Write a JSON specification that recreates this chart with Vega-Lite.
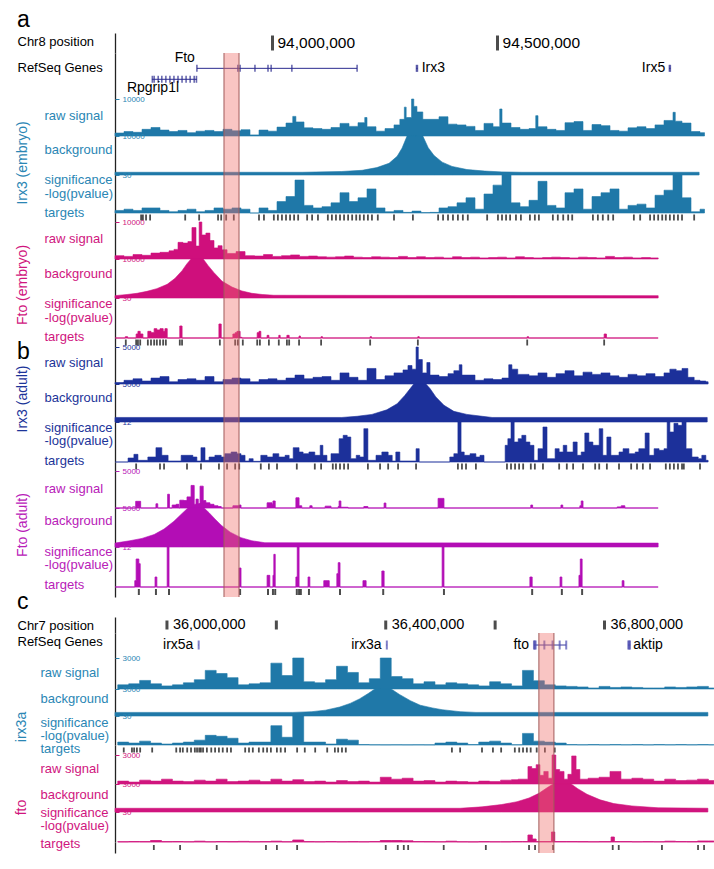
{
"$schema": "https://vega.github.io/schema/vega-lite/v6.json",
"padding": {"left": 15, "top": 0, "right": 0, "bottom": 0},
"background": "white",
"spacing": 0,
"bounds": "flush",
"resolve": {"scale": {"x": "independent", "y": "independent"}},
"config": {
  "view": {"stroke": null},
  "font": "Liberation Sans",
  "axisY": {"grid": false, "domainColor": "#222222", "domainWidth": 1.3, "titleAngle": 0, "titleAlign": "left", "titleBaseline": "top", "titleFontSize": 13, "titleFontWeight": "normal", "titleFont": "Liberation Sans", "titleLineHeight": 14, "labelFont": "Liberation Sans", "labelFontSize": 8, "labelAlign": "left", "labelBaseline": "middle", "tickSize": -4, "labelPadding": -3, "tickWidth": 1}
},
"datasets": {
  "hiA": [{"start": 93.8922, "end": 93.9256}],
  "hiC": [{"start": 36.680, "end": 36.7075}],
  "posA": [{"pos": 94.0, "label": "94,000,000"}, {"pos": 94.5, "label": "94,500,000"}],
  "posC": [{"pos": 36.0, "label": "36,000,000"}, {"pos": 36.2, "label": ""}, {"pos": 36.4, "label": "36,400,000"}, {"pos": 36.6, "label": ""}, {"pos": 36.8, "label": "36,800,000"}],
  "genesA": [{"gene": "Fto", "start": 93.832, "end": 94.188, "row": 1}, {"gene": "Rpgrip1l", "start": 93.732, "end": 93.832, "row": 2}, {"gene": "Irx3", "start": 94.3195, "end": 94.3225, "row": 1}, {"gene": "Irx5", "start": 94.8815, "end": 94.8845, "row": 1}],
  "exonsA": [{"pos": 93.832, "row": 1}, {"pos": 93.923, "row": 1}, {"pos": 93.928, "row": 1}, {"pos": 93.961, "row": 1}, {"pos": 93.990, "row": 1}, {"pos": 93.997, "row": 1}, {"pos": 94.043, "row": 1}, {"pos": 94.188, "row": 1},
    {"pos": 93.733, "row": 2}, {"pos": 93.737, "row": 2}, {"pos": 93.746, "row": 2}, {"pos": 93.754, "row": 2}, {"pos": 93.763, "row": 2}, {"pos": 93.772, "row": 2}, {"pos": 93.781, "row": 2}, {"pos": 93.790, "row": 2}, {"pos": 93.799, "row": 2}, {"pos": 93.808, "row": 2}, {"pos": 93.817, "row": 2}, {"pos": 93.826, "row": 2}, {"pos": 93.831, "row": 2},
    {"pos": 94.320, "row": 1}, {"pos": 94.322, "row": 1}, {"pos": 94.882, "row": 1}, {"pos": 94.884, "row": 1}],
  "genesC": [{"gene": "irx5a", "start": 36.0575, "end": 36.0585, "row": 1}, {"gene": "irx3a", "start": 36.4015, "end": 36.4025, "row": 1}, {"gene": "fto", "start": 36.671, "end": 36.730, "row": 1}, {"gene": "aktip", "start": 36.843, "end": 36.847, "row": 1}],
  "exonsC": [{"pos": 36.058, "row": 1}, {"pos": 36.402, "row": 1}, {"pos": 36.671, "row": 1}, {"pos": 36.6725, "row": 1}, {"pos": 36.674, "row": 1}, {"pos": 36.690, "row": 1}, {"pos": 36.705, "row": 1}, {"pos": 36.718, "row": 1}, {"pos": 36.730, "row": 1}, {"pos": 36.8435, "row": 1}, {"pos": 36.845, "row": 1}, {"pos": 36.8465, "row": 1}],
  "ie_raw": [{"x":93.65,"v":800},{"x":93.67,"v":1200},{"x":93.69,"v":1000},{"x":93.71,"v":1800},{"x":93.73,"v":2300},{"x":93.75,"v":1600},{"x":93.77,"v":1200},{"x":93.79,"v":1500},{"x":93.81,"v":900},{"x":93.83,"v":1300},{"x":93.85,"v":1500},{"x":93.87,"v":1200},{"x":93.89,"v":1800},{"x":93.91,"v":1400},{"x":93.93,"v":1700},{"x":93.95,"v":300},{"x":93.97,"v":1600},{"x":93.99,"v":1300},{"x":94.01,"v":2400},{"x":94.03,"v":3500},{"x":94.045,"v":5300},{"x":94.052,"v":3800},{"x":94.07,"v":2200},{"x":94.09,"v":2000},{"x":94.11,"v":1800},{"x":94.13,"v":2300},{"x":94.15,"v":3400},{"x":94.17,"v":2600},{"x":94.19,"v":3600},{"x":94.205,"v":5000},{"x":94.21,"v":2500},{"x":94.23,"v":1300},{"x":94.25,"v":2000},{"x":94.27,"v":3000},{"x":94.283,"v":4500},{"x":94.293,"v":7800},{"x":94.297,"v":5000},{"x":94.309,"v":10000},{"x":94.314,"v":8000},{"x":94.321,"v":6500},{"x":94.334,"v":4500},{"x":94.35,"v":4500},{"x":94.37,"v":5200},{"x":94.39,"v":3200},{"x":94.41,"v":3000},{"x":94.43,"v":2600},{"x":94.45,"v":1500},{"x":94.47,"v":3400},{"x":94.49,"v":2500},{"x":94.505,"v":7300},{"x":94.51,"v":3500},{"x":94.53,"v":2300},{"x":94.55,"v":1800},{"x":94.57,"v":2000},{"x":94.585,"v":5500},{"x":94.59,"v":2500},{"x":94.61,"v":1800},{"x":94.63,"v":1500},{"x":94.65,"v":3600},{"x":94.67,"v":3900},{"x":94.69,"v":1500},{"x":94.71,"v":3100},{"x":94.73,"v":2800},{"x":94.75,"v":1500},{"x":94.77,"v":1300},{"x":94.79,"v":2200},{"x":94.81,"v":2500},{"x":94.83,"v":2000},{"x":94.85,"v":3000},{"x":94.87,"v":4200},{"x":94.89,"v":6400},{"x":94.895,"v":4000},{"x":94.91,"v":3500},{"x":94.93,"v":1200},{"x":94.95,"v":900},{"x":94.96,"v":0}],
  "ie_bg": [{"x":93.65,"v":700},{"x":94.066,"v":700},{"x":94.154,"v":900},{"x":94.199,"v":1200},{"x":94.232,"v":1900},{"x":94.259,"v":3000},{"x":94.277,"v":4800},{"x":94.288,"v":6900},{"x":94.299,"v":10000},{"x":94.317,"v":10000},{"x":94.334,"v":10000},{"x":94.346,"v":7000},{"x":94.359,"v":5000},{"x":94.377,"v":3300},{"x":94.399,"v":2200},{"x":94.432,"v":1400},{"x":94.472,"v":1000},{"x":94.51,"v":800},{"x":94.554,"v":700},{"x":94.948,"v":700}],
  "ie_sig": [{"x":93.65,"v":2},{"x":93.67,"v":3},{"x":93.69,"v":2},{"x":93.71,"v":4},{"x":93.73,"v":4},{"x":93.75,"v":2},{"x":93.77,"v":1},{"x":93.79,"v":2},{"x":93.81,"v":3},{"x":93.83,"v":1},{"x":93.85,"v":2},{"x":93.87,"v":4},{"x":93.89,"v":3},{"x":93.91,"v":4},{"x":93.93,"v":3},{"x":93.95,"v":0},{"x":93.97,"v":4},{"x":93.99,"v":2},{"x":94.01,"v":9},{"x":94.03,"v":13},{"x":94.05,"v":26},{"x":94.07,"v":6},{"x":94.09,"v":4},{"x":94.11,"v":5},{"x":94.13,"v":8},{"x":94.15,"v":16},{"x":94.17,"v":9},{"x":94.19,"v":12},{"x":94.21,"v":19},{"x":94.23,"v":4},{"x":94.25,"v":1},{"x":94.27,"v":2},{"x":94.29,"v":0.5},{"x":94.31,"v":1.5},{"x":94.33,"v":0.3},{"x":94.35,"v":0.5},{"x":94.37,"v":4},{"x":94.39,"v":5},{"x":94.41,"v":8},{"x":94.43,"v":12},{"x":94.45,"v":3},{"x":94.47,"v":15},{"x":94.49,"v":22},{"x":94.51,"v":30},{"x":94.53,"v":8},{"x":94.55,"v":5},{"x":94.57,"v":10},{"x":94.59,"v":25},{"x":94.61,"v":6},{"x":94.63,"v":4},{"x":94.65,"v":16},{"x":94.67,"v":19},{"x":94.69,"v":3},{"x":94.71,"v":13},{"x":94.73,"v":16},{"x":94.75,"v":19},{"x":94.77,"v":3},{"x":94.79,"v":6},{"x":94.81,"v":7},{"x":94.83,"v":4},{"x":94.85,"v":14},{"x":94.87,"v":18},{"x":94.89,"v":30},{"x":94.91,"v":12},{"x":94.93,"v":1},{"x":94.95,"v":3},{"x":94.96,"v":0}],
  "ie_tg": [{"x":93.708},{"x":93.712},{"x":93.719},{"x":93.728},{"x":93.806},{"x":93.837},{"x":93.879},{"x":93.886},{"x":93.897},{"x":93.914},{"x":93.970},{"x":93.981},{"x":94.003},{"x":94.012},{"x":94.021},{"x":94.030},{"x":94.039},{"x":94.048},{"x":94.057},{"x":94.077},{"x":94.088},{"x":94.101},{"x":94.123},{"x":94.132},{"x":94.141},{"x":94.150},{"x":94.159},{"x":94.168},{"x":94.177},{"x":94.186},{"x":94.194},{"x":94.203},{"x":94.212},{"x":94.221},{"x":94.234},{"x":94.270},{"x":94.312},{"x":94.368},{"x":94.379},{"x":94.390},{"x":94.401},{"x":94.412},{"x":94.423},{"x":94.434},{"x":94.477},{"x":94.501},{"x":94.510},{"x":94.519},{"x":94.528},{"x":94.541},{"x":94.552},{"x":94.572},{"x":94.583},{"x":94.592},{"x":94.623},{"x":94.634},{"x":94.646},{"x":94.657},{"x":94.666},{"x":94.712},{"x":94.723},{"x":94.734},{"x":94.746},{"x":94.757},{"x":94.803},{"x":94.817},{"x":94.839},{"x":94.848},{"x":94.857},{"x":94.866},{"x":94.874},{"x":94.883},{"x":94.892},{"x":94.901},{"x":94.910},{"x":94.937}],
  "fe_raw": [{"x":93.65,"v":900},{"x":93.67,"v":700},{"x":93.69,"v":1200},{"x":93.71,"v":1000},{"x":93.73,"v":1600},{"x":93.75,"v":1800},{"x":93.77,"v":2200},{"x":93.781,"v":2600},{"x":93.79,"v":4500},{"x":93.801,"v":4300},{"x":93.812,"v":4700},{"x":93.821,"v":8500},{"x":93.83,"v":3500},{"x":93.837,"v":10000},{"x":93.843,"v":6500},{"x":93.852,"v":7000},{"x":93.861,"v":5000},{"x":93.87,"v":3000},{"x":93.879,"v":3600},{"x":93.888,"v":2500},{"x":93.899,"v":1500},{"x":93.919,"v":2000},{"x":93.939,"v":900},{"x":93.96,"v":800},{"x":93.98,"v":1200},{"x":94.0,"v":700},{"x":94.02,"v":900},{"x":94.04,"v":1100},{"x":94.06,"v":700},{"x":94.08,"v":800},{"x":94.1,"v":600},{"x":94.12,"v":500},{"x":94.14,"v":600},{"x":94.16,"v":800},{"x":94.18,"v":500},{"x":94.2,"v":400},{"x":94.22,"v":600},{"x":94.24,"v":500},{"x":94.26,"v":400},{"x":94.28,"v":700},{"x":94.3,"v":400},{"x":94.32,"v":600},{"x":94.34,"v":400},{"x":94.36,"v":500},{"x":94.38,"v":300},{"x":94.4,"v":600},{"x":94.42,"v":400},{"x":94.44,"v":500},{"x":94.46,"v":300},{"x":94.48,"v":400},{"x":94.5,"v":500},{"x":94.52,"v":300},{"x":94.54,"v":600},{"x":94.56,"v":400},{"x":94.58,"v":300},{"x":94.6,"v":400},{"x":94.62,"v":500},{"x":94.64,"v":400},{"x":94.66,"v":300},{"x":94.68,"v":500},{"x":94.7,"v":400},{"x":94.72,"v":300},{"x":94.74,"v":700},{"x":94.76,"v":400},{"x":94.78,"v":500},{"x":94.8,"v":300},{"x":94.82,"v":400},{"x":94.84,"v":300},{"x":94.857,"v":0}],
  "fe_bg": [{"x":93.65,"v":600},{"x":93.677,"v":900},{"x":93.699,"v":1200},{"x":93.721,"v":1700},{"x":93.743,"v":2400},{"x":93.766,"v":3500},{"x":93.783,"v":5000},{"x":93.799,"v":7000},{"x":93.81,"v":8800},{"x":93.819,"v":10000},{"x":93.846,"v":10000},{"x":93.857,"v":8300},{"x":93.87,"v":6500},{"x":93.888,"v":4300},{"x":93.91,"v":2800},{"x":93.932,"v":1800},{"x":93.954,"v":1200},{"x":93.977,"v":900},{"x":94.003,"v":700},{"x":94.857,"v":600}],
  "fe_sig": [{"x":93.65,"v":0},{"x":93.673,"v":1},{"x":93.678,"v":0},{"x":93.697,"v":3},{"x":93.701,"v":5},{"x":93.706,"v":3},{"x":93.712,"v":0},{"x":93.723,"v":5},{"x":93.73,"v":4},{"x":93.737,"v":7},{"x":93.743,"v":6},{"x":93.75,"v":7},{"x":93.757,"v":5},{"x":93.761,"v":7},{"x":93.766,"v":0},{"x":93.794,"v":9},{"x":93.799,"v":0},{"x":93.881,"v":10.5},{"x":93.886,"v":0},{"x":93.912,"v":3},{"x":93.917,"v":4},{"x":93.921,"v":5},{"x":93.928,"v":0.5},{"x":93.932,"v":0},{"x":93.966,"v":4},{"x":93.97,"v":5},{"x":93.974,"v":0},{"x":93.988,"v":2},{"x":93.992,"v":0},{"x":94.014,"v":2},{"x":94.017,"v":0},{"x":94.032,"v":2},{"x":94.037,"v":0},{"x":94.059,"v":1.5},{"x":94.062,"v":0},{"x":94.108,"v":1},{"x":94.111,"v":0},{"x":94.217,"v":1},{"x":94.22,"v":0},{"x":94.323,"v":1},{"x":94.326,"v":0},{"x":94.566,"v":1},{"x":94.569,"v":0},{"x":94.737,"v":3},{"x":94.742,"v":0},{"x":94.857,"v":0}],
  "fe_tg": [{"x":93.674},{"x":93.697},{"x":93.701},{"x":93.706},{"x":93.723},{"x":93.730},{"x":93.737},{"x":93.743},{"x":93.750},{"x":93.757},{"x":93.763},{"x":93.794},{"x":93.799},{"x":93.883},{"x":93.917},{"x":93.923},{"x":93.934},{"x":93.966},{"x":93.972},{"x":93.992},{"x":94.014},{"x":94.032},{"x":94.037},{"x":94.059},{"x":94.108},{"x":94.217},{"x":94.323},{"x":94.566},{"x":94.737}],
  "ia_raw": [{"x":93.65,"v":200},{"x":93.67,"v":500},{"x":93.69,"v":700},{"x":93.71,"v":400},{"x":93.73,"v":800},{"x":93.75,"v":1000},{"x":93.77,"v":300},{"x":93.79,"v":600},{"x":93.81,"v":700},{"x":93.83,"v":500},{"x":93.85,"v":1000},{"x":93.87,"v":300},{"x":93.89,"v":600},{"x":93.91,"v":800},{"x":93.93,"v":700},{"x":93.95,"v":300},{"x":93.97,"v":600},{"x":93.99,"v":700},{"x":94.01,"v":500},{"x":94.03,"v":800},{"x":94.05,"v":1200},{"x":94.07,"v":700},{"x":94.09,"v":900},{"x":94.11,"v":1000},{"x":94.13,"v":500},{"x":94.15,"v":1500},{"x":94.17,"v":900},{"x":94.19,"v":500},{"x":94.21,"v":2100},{"x":94.23,"v":600},{"x":94.25,"v":1100},{"x":94.27,"v":1500},{"x":94.29,"v":1900},{"x":94.301,"v":2500},{"x":94.31,"v":2000},{"x":94.319,"v":5000},{"x":94.324,"v":3300},{"x":94.333,"v":1500},{"x":94.343,"v":2900},{"x":94.35,"v":1200},{"x":94.37,"v":1000},{"x":94.39,"v":1400},{"x":94.403,"v":1800},{"x":94.415,"v":2600},{"x":94.421,"v":1200},{"x":94.45,"v":500},{"x":94.47,"v":700},{"x":94.49,"v":600},{"x":94.51,"v":800},{"x":94.525,"v":2600},{"x":94.532,"v":2000},{"x":94.545,"v":1300},{"x":94.57,"v":1100},{"x":94.59,"v":1500},{"x":94.61,"v":900},{"x":94.63,"v":1400},{"x":94.65,"v":1800},{"x":94.67,"v":1100},{"x":94.69,"v":1600},{"x":94.71,"v":1300},{"x":94.73,"v":1500},{"x":94.75,"v":1100},{"x":94.77,"v":900},{"x":94.79,"v":1300},{"x":94.81,"v":1100},{"x":94.83,"v":1400},{"x":94.85,"v":1000},{"x":94.87,"v":1500},{"x":94.883,"v":2000},{"x":94.897,"v":1800},{"x":94.91,"v":2100},{"x":94.923,"v":900},{"x":94.937,"v":500},{"x":94.95,"v":400},{"x":94.963,"v":300},{"x":94.968,"v":0}],
  "ia_bg": [{"x":93.65,"v":600},{"x":94.154,"v":600},{"x":94.188,"v":750},{"x":94.221,"v":1000},{"x":94.254,"v":1600},{"x":94.277,"v":2400},{"x":94.294,"v":3500},{"x":94.306,"v":4400},{"x":94.314,"v":5000},{"x":94.341,"v":5000},{"x":94.35,"v":4400},{"x":94.363,"v":3300},{"x":94.381,"v":2200},{"x":94.403,"v":1400},{"x":94.432,"v":1000},{"x":94.466,"v":750},{"x":94.488,"v":600},{"x":94.966,"v":600}],
  "ia_sig": [{"x":93.65,"v":0},{"x":93.679,"v":1.2},{"x":93.692,"v":2.3},{"x":93.701,"v":0.5},{"x":93.723,"v":1.5},{"x":93.741,"v":4.3},{"x":93.754,"v":2},{"x":93.768,"v":0.3},{"x":93.797,"v":2},{"x":93.81,"v":2},{"x":93.823,"v":1.5},{"x":93.832,"v":0.3},{"x":93.841,"v":4.3},{"x":93.85,"v":0.5},{"x":93.859,"v":1.5},{"x":93.872,"v":2},{"x":93.886,"v":1.5},{"x":93.894,"v":2.5},{"x":93.908,"v":3},{"x":93.921,"v":2.5},{"x":93.93,"v":2},{"x":93.939,"v":0.3},{"x":93.948,"v":1},{"x":93.957,"v":0.2},{"x":93.974,"v":2},{"x":93.988,"v":1.5},{"x":94.001,"v":2.5},{"x":94.014,"v":1.5},{"x":94.028,"v":2},{"x":94.037,"v":1},{"x":94.046,"v":4.3},{"x":94.059,"v":3},{"x":94.068,"v":2.5},{"x":94.081,"v":3},{"x":94.094,"v":2},{"x":94.106,"v":5},{"x":94.112,"v":2},{"x":94.121,"v":0.3},{"x":94.13,"v":2.5},{"x":94.141,"v":2.5},{"x":94.148,"v":7},{"x":94.157,"v":8},{"x":94.166,"v":7.5},{"x":94.174,"v":1},{"x":94.186,"v":2},{"x":94.194,"v":1.5},{"x":94.203,"v":10},{"x":94.212,"v":0.5},{"x":94.23,"v":2},{"x":94.243,"v":3},{"x":94.257,"v":2},{"x":94.266,"v":0.3},{"x":94.274,"v":3},{"x":94.283,"v":0.3},{"x":94.319,"v":4},{"x":94.326,"v":0},{"x":94.394,"v":1.5},{"x":94.403,"v":2.5},{"x":94.412,"v":12},{"x":94.419,"v":3},{"x":94.426,"v":2},{"x":94.439,"v":2.5},{"x":94.452,"v":1.5},{"x":94.461,"v":2},{"x":94.47,"v":0},{"x":94.517,"v":5},{"x":94.523,"v":7},{"x":94.53,"v":12},{"x":94.537,"v":6},{"x":94.546,"v":7},{"x":94.554,"v":8},{"x":94.563,"v":6},{"x":94.572,"v":5},{"x":94.581,"v":0.5},{"x":94.59,"v":4},{"x":94.601,"v":10.5},{"x":94.61,"v":1},{"x":94.628,"v":4},{"x":94.637,"v":3},{"x":94.646,"v":5},{"x":94.654,"v":3},{"x":94.668,"v":6},{"x":94.677,"v":2},{"x":94.686,"v":3},{"x":94.694,"v":8.7},{"x":94.703,"v":6},{"x":94.712,"v":5},{"x":94.726,"v":10},{"x":94.734,"v":2},{"x":94.743,"v":7.5},{"x":94.752,"v":2},{"x":94.77,"v":3},{"x":94.779,"v":4},{"x":94.792,"v":2.5},{"x":94.806,"v":3},{"x":94.814,"v":4},{"x":94.828,"v":8.7},{"x":94.837,"v":2},{"x":94.848,"v":4},{"x":94.859,"v":3.5},{"x":94.87,"v":4},{"x":94.877,"v":12},{"x":94.883,"v":9},{"x":94.892,"v":11.6},{"x":94.901,"v":11},{"x":94.91,"v":12},{"x":94.919,"v":4},{"x":94.932,"v":1.5},{"x":94.946,"v":1},{"x":94.954,"v":2},{"x":94.963,"v":0.5},{"x":94.968,"v":0}],
  "ia_tg": [{"x":93.697},{"x":93.750},{"x":93.759},{"x":93.810},{"x":93.841},{"x":93.881},{"x":93.899},{"x":93.917},{"x":93.926},{"x":93.974},{"x":93.992},{"x":94.010},{"x":94.054},{"x":94.094},{"x":94.108},{"x":94.134},{"x":94.141},{"x":94.150},{"x":94.159},{"x":94.168},{"x":94.212},{"x":94.239},{"x":94.257},{"x":94.279},{"x":94.319},{"x":94.412},{"x":94.421},{"x":94.430},{"x":94.452},{"x":94.521},{"x":94.530},{"x":94.539},{"x":94.548},{"x":94.557},{"x":94.574},{"x":94.583},{"x":94.601},{"x":94.637},{"x":94.654},{"x":94.668},{"x":94.690},{"x":94.717},{"x":94.726},{"x":94.743},{"x":94.770},{"x":94.797},{"x":94.810},{"x":94.823},{"x":94.839},{"x":94.874},{"x":94.883},{"x":94.892},{"x":94.901},{"x":94.910},{"x":94.914},{"x":94.950}],
  "fa_raw": [{"x":93.65,"v":0},{"x":93.696,"v":900},{"x":93.707,"v":0},{"x":93.741,"v":570},{"x":93.745,"v":0},{"x":93.767,"v":1860},{"x":93.771,"v":0},{"x":93.777,"v":400},{"x":93.786,"v":500},{"x":93.792,"v":0},{"x":93.794,"v":1050},{"x":93.803,"v":1000},{"x":93.81,"v":1500},{"x":93.819,"v":3050},{"x":93.826,"v":500},{"x":93.83,"v":1200},{"x":93.835,"v":600},{"x":93.839,"v":2950},{"x":93.846,"v":1000},{"x":93.852,"v":700},{"x":93.861,"v":500},{"x":93.87,"v":300},{"x":93.879,"v":200},{"x":93.886,"v":0},{"x":93.912,"v":300},{"x":93.926,"v":400},{"x":93.93,"v":0},{"x":93.988,"v":700},{"x":93.999,"v":500},{"x":94.001,"v":950},{"x":94.006,"v":0},{"x":94.052,"v":1380},{"x":94.059,"v":300},{"x":94.065,"v":0},{"x":94.083,"v":300},{"x":94.088,"v":0},{"x":94.117,"v":250},{"x":94.13,"v":0},{"x":94.146,"v":200},{"x":94.148,"v":950},{"x":94.152,"v":100},{"x":94.168,"v":0},{"x":94.203,"v":200},{"x":94.212,"v":0},{"x":94.248,"v":670},{"x":94.252,"v":0},{"x":94.368,"v":1300},{"x":94.381,"v":0},{"x":94.574,"v":400},{"x":94.578,"v":0},{"x":94.641,"v":400},{"x":94.645,"v":0},{"x":94.683,"v":300},{"x":94.686,"v":950},{"x":94.69,"v":0},{"x":94.766,"v":150},{"x":94.775,"v":300},{"x":94.783,"v":0},{"x":94.857,"v":0}],
  "fa_bg": [{"x":93.65,"v":500},{"x":93.683,"v":800},{"x":93.71,"v":1100},{"x":93.737,"v":1600},{"x":93.759,"v":2300},{"x":93.781,"v":3300},{"x":93.799,"v":4300},{"x":93.812,"v":5000},{"x":93.848,"v":5000},{"x":93.859,"v":4400},{"x":93.872,"v":3600},{"x":93.886,"v":2800},{"x":93.906,"v":1900},{"x":93.93,"v":1200},{"x":93.954,"v":800},{"x":93.983,"v":550},{"x":94.857,"v":500}],
  "fa_sig": [{"x":93.65,"v":0},{"x":93.694,"v":1.9},{"x":93.697,"v":8.4},{"x":93.703,"v":7},{"x":93.706,"v":0},{"x":93.739,"v":3},{"x":93.743,"v":0},{"x":93.766,"v":12},{"x":93.77,"v":0},{"x":93.926,"v":5.7},{"x":93.93,"v":0},{"x":93.988,"v":3.5},{"x":93.994,"v":0},{"x":94.001,"v":3.5},{"x":94.003,"v":9.8},{"x":94.006,"v":0},{"x":94.052,"v":3},{"x":94.055,"v":12},{"x":94.059,"v":0},{"x":94.079,"v":3},{"x":94.083,"v":0},{"x":94.114,"v":1.9},{"x":94.126,"v":0},{"x":94.143,"v":4},{"x":94.146,"v":7.3},{"x":94.15,"v":0},{"x":94.201,"v":1.9},{"x":94.208,"v":0},{"x":94.243,"v":4.8},{"x":94.248,"v":0},{"x":94.377,"v":12},{"x":94.381,"v":0},{"x":94.572,"v":3},{"x":94.577,"v":0},{"x":94.639,"v":3},{"x":94.643,"v":0},{"x":94.681,"v":3.5},{"x":94.684,"v":8.4},{"x":94.688,"v":0},{"x":94.777,"v":1.9},{"x":94.781,"v":0},{"x":94.857,"v":0}],
  "fa_tg": [{"x":93.703},{"x":93.741},{"x":93.770},{"x":93.928},{"x":93.990},{"x":94.001},{"x":94.006},{"x":94.054},{"x":94.059},{"x":94.063},{"x":94.081},{"x":94.150},{"x":94.246},{"x":94.381},{"x":94.577},{"x":94.643},{"x":94.688}],
  "ci_raw": [{"x":35.91,"v":400},{"x":35.93,"v":500},{"x":35.95,"v":830},{"x":35.97,"v":500},{"x":35.99,"v":300},{"x":36.01,"v":400},{"x":36.03,"v":600},{"x":36.05,"v":900},{"x":36.07,"v":1800},{"x":36.09,"v":1500},{"x":36.11,"v":1100},{"x":36.13,"v":400},{"x":36.15,"v":500},{"x":36.17,"v":600},{"x":36.19,"v":2500},{"x":36.21,"v":1300},{"x":36.23,"v":3000},{"x":36.25,"v":700},{"x":36.27,"v":600},{"x":36.29,"v":900},{"x":36.31,"v":2200},{"x":36.33,"v":1600},{"x":36.35,"v":600},{"x":36.37,"v":1000},{"x":36.39,"v":3000},{"x":36.41,"v":1200},{"x":36.43,"v":1000},{"x":36.45,"v":500},{"x":36.47,"v":700},{"x":36.49,"v":400},{"x":36.51,"v":600},{"x":36.53,"v":500},{"x":36.55,"v":400},{"x":36.57,"v":300},{"x":36.59,"v":700},{"x":36.61,"v":500},{"x":36.63,"v":300},{"x":36.65,"v":1800},{"x":36.67,"v":800},{"x":36.69,"v":400},{"x":36.71,"v":300},{"x":36.73,"v":250},{"x":36.75,"v":200},{"x":36.77,"v":100},{"x":36.79,"v":250},{"x":36.81,"v":150},{"x":36.83,"v":200},{"x":36.85,"v":150},{"x":36.87,"v":100},{"x":36.89,"v":100},{"x":36.91,"v":200},{"x":36.93,"v":150},{"x":36.95,"v":200},{"x":36.97,"v":250},{"x":36.99,"v":100},{"x":37.0,"v":0}],
  "ci_bg": [{"x":35.905,"v":400},{"x":36.23,"v":400},{"x":36.265,"v":480},{"x":36.29,"v":650},{"x":36.316,"v":1000},{"x":36.335,"v":1400},{"x":36.352,"v":1900},{"x":36.368,"v":2500},{"x":36.38,"v":3000},{"x":36.41,"v":3000},{"x":36.425,"v":2400},{"x":36.445,"v":1700},{"x":36.463,"v":1200},{"x":36.485,"v":900},{"x":36.503,"v":700},{"x":36.536,"v":480},{"x":36.565,"v":400},{"x":36.989,"v":400}],
  "ci_sig": [{"x":35.91,"v":3},{"x":35.93,"v":2},{"x":35.95,"v":4},{"x":35.97,"v":2},{"x":35.99,"v":1},{"x":36.01,"v":2},{"x":36.03,"v":3},{"x":36.05,"v":5},{"x":36.07,"v":10},{"x":36.09,"v":9},{"x":36.11,"v":7},{"x":36.13,"v":2},{"x":36.15,"v":3},{"x":36.17,"v":3},{"x":36.19,"v":20},{"x":36.21,"v":8},{"x":36.23,"v":30},{"x":36.25,"v":3},{"x":36.27,"v":3},{"x":36.29,"v":1},{"x":36.31,"v":6},{"x":36.33,"v":5},{"x":36.35,"v":0.5},{"x":36.37,"v":0.3},{"x":36.39,"v":0.2},{"x":36.41,"v":0.3},{"x":36.43,"v":0.2},{"x":36.45,"v":0.3},{"x":36.47,"v":0.2},{"x":36.49,"v":2},{"x":36.51,"v":3},{"x":36.53,"v":2},{"x":36.55,"v":0.5},{"x":36.57,"v":3},{"x":36.59,"v":4},{"x":36.61,"v":2},{"x":36.63,"v":0.3},{"x":36.65,"v":12},{"x":36.67,"v":4},{"x":36.69,"v":3},{"x":36.71,"v":2},{"x":36.73,"v":0.5},{"x":36.75,"v":0.3},{"x":36.77,"v":0.5},{"x":36.79,"v":0.3},{"x":36.81,"v":0.5},{"x":36.83,"v":0.3},{"x":36.85,"v":0.5},{"x":36.87,"v":0.2},{"x":36.89,"v":0.5},{"x":36.91,"v":0.3},{"x":36.93,"v":0.5},{"x":36.95,"v":0.3},{"x":36.97,"v":0.5},{"x":36.99,"v":0.3},{"x":37.0,"v":0}],
  "ci_tg": [{"x":35.921},{"x":35.936},{"x":35.940},{"x":35.945},{"x":35.951},{"x":35.973},{"x":36.017},{"x":36.024},{"x":36.029},{"x":36.037},{"x":36.044},{"x":36.051},{"x":36.055},{"x":36.059},{"x":36.062},{"x":36.066},{"x":36.073},{"x":36.081},{"x":36.088},{"x":36.095},{"x":36.102},{"x":36.110},{"x":36.117},{"x":36.143},{"x":36.150},{"x":36.157},{"x":36.168},{"x":36.176},{"x":36.183},{"x":36.190},{"x":36.201},{"x":36.208},{"x":36.216},{"x":36.238},{"x":36.252},{"x":36.271},{"x":36.293},{"x":36.307},{"x":36.313},{"x":36.320},{"x":36.327},{"x":36.521},{"x":36.536},{"x":36.576},{"x":36.596},{"x":36.611},{"x":36.636},{"x":36.644},{"x":36.651},{"x":36.658},{"x":36.665},{"x":36.676},{"x":36.691},{"x":36.709}],
  "cf_raw": [{"x":35.91,"v":300},{"x":35.93,"v":200},{"x":35.95,"v":400},{"x":35.97,"v":300},{"x":35.99,"v":500},{"x":36.01,"v":300},{"x":36.03,"v":250},{"x":36.05,"v":400},{"x":36.07,"v":300},{"x":36.09,"v":500},{"x":36.11,"v":250},{"x":36.13,"v":300},{"x":36.15,"v":400},{"x":36.17,"v":250},{"x":36.19,"v":500},{"x":36.21,"v":300},{"x":36.23,"v":450},{"x":36.25,"v":250},{"x":36.27,"v":300},{"x":36.29,"v":200},{"x":36.31,"v":350},{"x":36.33,"v":250},{"x":36.35,"v":300},{"x":36.37,"v":200},{"x":36.39,"v":700},{"x":36.41,"v":500},{"x":36.43,"v":600},{"x":36.45,"v":300},{"x":36.47,"v":350},{"x":36.49,"v":200},{"x":36.51,"v":300},{"x":36.53,"v":250},{"x":36.55,"v":200},{"x":36.57,"v":300},{"x":36.59,"v":250},{"x":36.61,"v":400},{"x":36.63,"v":450},{"x":36.642,"v":500},{"x":36.66,"v":1800},{"x":36.667,"v":1600},{"x":36.675,"v":2000},{"x":36.682,"v":900},{"x":36.689,"v":1300},{"x":36.697,"v":600},{"x":36.704,"v":3000},{"x":36.711,"v":1500},{"x":36.718,"v":1300},{"x":36.726,"v":500},{"x":36.733,"v":1000},{"x":36.74,"v":2900},{"x":36.748,"v":1500},{"x":36.755,"v":500},{"x":36.77,"v":600},{"x":36.79,"v":700},{"x":36.81,"v":1300},{"x":36.83,"v":500},{"x":36.85,"v":600},{"x":36.87,"v":500},{"x":36.89,"v":300},{"x":36.91,"v":500},{"x":36.93,"v":350},{"x":36.95,"v":400},{"x":36.97,"v":500},{"x":36.99,"v":350},{"x":37.0,"v":0}],
  "cf_bg": [{"x":35.905,"v":400},{"x":36.536,"v":400},{"x":36.576,"v":550},{"x":36.612,"v":800},{"x":36.64,"v":1100},{"x":36.662,"v":1500},{"x":36.68,"v":2000},{"x":36.695,"v":2600},{"x":36.706,"v":3000},{"x":36.739,"v":3000},{"x":36.751,"v":2500},{"x":36.768,"v":1900},{"x":36.792,"v":1300},{"x":36.817,"v":900},{"x":36.85,"v":650},{"x":36.898,"v":450},{"x":36.989,"v":400}],
  "cf_sig": [{"x":35.91,"v":0.3},{"x":35.93,"v":0.5},{"x":35.95,"v":0.4},{"x":35.97,"v":1.5},{"x":35.99,"v":0.4},{"x":36.01,"v":0.5},{"x":36.03,"v":0.3},{"x":36.05,"v":0.8},{"x":36.07,"v":0.3},{"x":36.09,"v":0.5},{"x":36.11,"v":0.4},{"x":36.13,"v":0.6},{"x":36.15,"v":0.3},{"x":36.17,"v":0.4},{"x":36.19,"v":0.8},{"x":36.21,"v":0.3},{"x":36.23,"v":2},{"x":36.25,"v":0.4},{"x":36.27,"v":0.3},{"x":36.29,"v":0.5},{"x":36.31,"v":0.3},{"x":36.33,"v":0.4},{"x":36.35,"v":0.3},{"x":36.37,"v":0.5},{"x":36.39,"v":1.5},{"x":36.41,"v":1.5},{"x":36.43,"v":1.2},{"x":36.45,"v":0.5},{"x":36.47,"v":0.4},{"x":36.49,"v":0.3},{"x":36.51,"v":0.8},{"x":36.53,"v":0.3},{"x":36.55,"v":0.2},{"x":36.57,"v":0.4},{"x":36.59,"v":0.3},{"x":36.61,"v":0.3},{"x":36.63,"v":0.5},{"x":36.65,"v":0.5},{"x":36.66,"v":7},{"x":36.668,"v":3},{"x":36.675,"v":0.5},{"x":36.703,"v":10},{"x":36.709,"v":0.5},{"x":36.73,"v":0.5},{"x":36.75,"v":0.4},{"x":36.77,"v":0.3},{"x":36.79,"v":0.4},{"x":36.812,"v":5},{"x":36.818,"v":0.5},{"x":36.83,"v":0.5},{"x":36.85,"v":0.3},{"x":36.87,"v":0.4},{"x":36.89,"v":0.3},{"x":36.91,"v":0.8},{"x":36.93,"v":0.5},{"x":36.95,"v":0.4},{"x":36.97,"v":1},{"x":36.99,"v":1},{"x":37.0,"v":0}],
  "cf_tg": [{"x":35.976},{"x":36.024},{"x":36.091},{"x":36.181},{"x":36.201},{"x":36.238},{"x":36.400},{"x":36.422},{"x":36.433},{"x":36.441},{"x":36.506},{"x":36.583},{"x":36.662},{"x":36.673},{"x":36.706},{"x":36.815},{"x":36.826},{"x":36.905},{"x":36.971},{"x":36.982}]
},
"vconcat": [
  {"width": 600, "height": 53,
   "title": {"text": "a", "anchor": "start", "frame": "group", "dx": -98, "dy": 50, "offset": 0, "baseline": "alphabetic", "fontSize": 23, "fontWeight": "normal", "color": "black"},
   "data": {"name": "posA"},
   "layer": [
     {"mark": {"type": "tick", "orient": "vertical", "color": "black", "thickness": 3, "size": 15},
      "encoding": {"x": {"field": "pos", "type": "quantitative", "scale": {"domain": [93.65, 94.9833], "nice": false, "zero": false}, "axis": null},
                   "y": {"datum": "Chr8 position", "type": "nominal", "scale": {"range": [33, 53]}, "axis": {"labels": false, "ticks": false, "title": "Chr8 position", "titleX": -98, "titleY": 35, "titleColor": "black"}}}},
     {"mark": {"type": "text", "align": "left", "baseline": "middle", "dx": 5, "fontSize": 15.5, "color": "black"},
      "encoding": {"x": {"field": "pos", "type": "quantitative"}, "y": {"datum": "Chr8 position", "type": "nominal"}, "text": {"field": "label"}}}
   ]},
  {"width": 600, "height": 46,
   "layer": [
     {"data": {"name": "genesA"}, "mark": {"type": "rule", "color": "#2b2b8f", "strokeWidth": 1},
      "encoding": {"x": {"field": "start", "type": "quantitative", "scale": {"domain": [93.65, 94.9833], "nice": false, "zero": false}, "axis": null}, "x2": {"field": "end"},
                   "y": {"field": "row", "type": "quantitative", "scale": {"domain": [-0.4, 3.8], "reverse": true, "nice": false, "zero": false}, "axis": {"labels": false, "ticks": false, "title": "RefSeq Genes", "titleX": -98, "titleY": 8.3, "titleColor": "black"}}}},
     {"data": {"name": "exonsA"}, "mark": {"type": "tick", "orient": "vertical", "color": "#2b2b8f", "thickness": 1.6, "size": 7},
      "encoding": {"x": {"field": "pos", "type": "quantitative"}, "y": {"field": "row", "type": "quantitative"}}},
     {"data": {"name": "genesA"}, "transform": [{"filter": {"field": "gene", "equal": "Fto"}}], "mark": {"type": "text", "align": "right", "baseline": "middle", "dx": -2, "dy": -10, "fontSize": 14, "color": "black"},
      "encoding": {"x": {"field": "start", "type": "quantitative"}, "y": {"field": "row", "type": "quantitative"}, "text": {"field": "gene"}}},
     {"data": {"name": "genesA"}, "transform": [{"filter": {"field": "gene", "equal": "Rpgrip1l"}}], "mark": {"type": "text", "align": "left", "baseline": "middle", "dx": -25, "dy": 9, "fontSize": 14, "color": "black"},
      "encoding": {"x": {"field": "start", "type": "quantitative"}, "y": {"field": "row", "type": "quantitative"}, "text": {"field": "gene"}}},
     {"data": {"name": "genesA"}, "transform": [{"filter": {"field": "gene", "equal": "Irx3"}}], "mark": {"type": "text", "align": "left", "baseline": "middle", "dx": 4, "fontSize": 14, "color": "black"},
      "encoding": {"x": {"field": "end", "type": "quantitative"}, "y": {"field": "row", "type": "quantitative"}, "text": {"field": "gene"}}},
     {"data": {"name": "genesA"}, "transform": [{"filter": {"field": "gene", "equal": "Irx5"}}], "mark": {"type": "text", "align": "right", "baseline": "middle", "dx": -4, "fontSize": 14, "color": "black"},
      "encoding": {"x": {"field": "start", "type": "quantitative"}, "y": {"field": "row", "type": "quantitative"}, "text": {"field": "gene"}}},
     {"data": {"name": "hiA"}, "mark": {"type": "rect", "color": "#ef6f6a", "opacity": 0.4}, "encoding": {"x": {"field": "start", "type": "quantitative"}, "x2": {"field": "end"}}},
     {"data": {"name": "hiA"}, "mark": {"type": "rule", "color": "#a05a5a", "strokeWidth": 1}, "encoding": {"x": {"field": "start", "type": "quantitative"}}},
     {"data": {"name": "hiA"}, "mark": {"type": "rule", "color": "#a05a5a", "strokeWidth": 1}, "encoding": {"x": {"field": "end", "type": "quantitative"}}}
   ]},
  {"width": 600, "height": 37,
   "layer": [
     {"data": {"name": "ie_raw"}, "mark": {"type": "area", "interpolate": "step-after", "color": "#1f78a8", "stroke": "#1f78a8", "strokeWidth": 0.6},
      "encoding": {"x": {"field": "x", "type": "quantitative", "scale": {"domain": [93.65, 94.9833], "nice": false, "zero": false}, "axis": null},
                   "y": {"field": "v", "type": "quantitative", "scale": {"domain": [0, 10000], "nice": false}, "axis": {"values": [10000], "format": "d", "title": "raw signal", "titleX": -71, "titleY": 10, "titleColor": "#2a86b4", "labelColor": "#2a86b4", "tickColor": "#2a86b4"}}}},
     {"data": {"name": "hiA"}, "mark": {"type": "rect", "color": "#ef6f6a", "opacity": 0.4}, "encoding": {"x": {"field": "start", "type": "quantitative"}, "x2": {"field": "end"}}},
     {"data": {"name": "hiA"}, "mark": {"type": "rule", "color": "#a05a5a", "strokeWidth": 1}, "encoding": {"x": {"field": "start", "type": "quantitative"}}},
     {"data": {"name": "hiA"}, "mark": {"type": "rule", "color": "#a05a5a", "strokeWidth": 1}, "encoding": {"x": {"field": "end", "type": "quantitative"}}}
   ]},
  {"width": 600, "height": 39,
   "title": {"text": "Irx3 (embryo)", "orient": "left", "anchor": "middle", "frame": "group", "offset": 14, "fontSize": 14, "fontWeight": "normal", "color": "#2a86b4", "dx": -7.5},
   "layer": [
     {"data": {"name": "ie_bg"}, "mark": {"type": "area", "color": "#1f78a8", "stroke": "#1f78a8", "strokeWidth": 0.6},
      "encoding": {"x": {"field": "x", "type": "quantitative", "scale": {"domain": [93.65, 94.9833], "nice": false, "zero": false}, "axis": null},
                   "y": {"field": "v", "type": "quantitative", "scale": {"domain": [0, 10000], "nice": false}, "axis": {"values": [10000], "format": "d", "title": "background", "titleX": -71, "titleY": 7, "titleColor": "#2a86b4", "labelColor": "#2a86b4", "tickColor": "#2a86b4"}}}},
     {"data": {"name": "hiA"}, "mark": {"type": "rect", "color": "#ef6f6a", "opacity": 0.4}, "encoding": {"x": {"field": "start", "type": "quantitative"}, "x2": {"field": "end"}}},
     {"data": {"name": "hiA"}, "mark": {"type": "rule", "color": "#a05a5a", "strokeWidth": 1}, "encoding": {"x": {"field": "start", "type": "quantitative"}}},
     {"data": {"name": "hiA"}, "mark": {"type": "rule", "color": "#a05a5a", "strokeWidth": 1}, "encoding": {"x": {"field": "end", "type": "quantitative"}}}
   ]},
  {"width": 600, "height": 38,
   "layer": [
     {"data": {"name": "ie_sig"}, "mark": {"type": "area", "interpolate": "step-after", "color": "#1f78a8", "stroke": "#1f78a8", "strokeWidth": 0.6},
      "encoding": {"x": {"field": "x", "type": "quantitative", "scale": {"domain": [93.65, 94.9833], "nice": false, "zero": false}, "axis": null},
                   "y": {"field": "v", "type": "quantitative", "scale": {"domain": [0, 30], "nice": false}, "axis": {"values": [30], "format": "d", "title": ["significance", "-log(pvalue)"], "titleX": -71, "titleY": -1.5, "titleColor": "#2a86b4", "labelColor": "#2a86b4", "tickColor": "#2a86b4"}}}},
     {"data": {"name": "hiA"}, "mark": {"type": "rect", "color": "#ef6f6a", "opacity": 0.4}, "encoding": {"x": {"field": "start", "type": "quantitative"}, "x2": {"field": "end"}}},
     {"data": {"name": "hiA"}, "mark": {"type": "rule", "color": "#a05a5a", "strokeWidth": 1}, "encoding": {"x": {"field": "start", "type": "quantitative"}}},
     {"data": {"name": "hiA"}, "mark": {"type": "rule", "color": "#a05a5a", "strokeWidth": 1}, "encoding": {"x": {"field": "end", "type": "quantitative"}}}
   ]},
  {"width": 600, "height": 9,
   "layer": [
     {"data": {"name": "ie_tg"}, "mark": {"type": "tick", "orient": "vertical", "color": "black", "thickness": 1.8, "size": 6},
      "encoding": {"x": {"field": "x", "type": "quantitative", "scale": {"domain": [93.65, 94.9833], "nice": false, "zero": false}, "axis": null},
                   "y": {"datum": "targets", "type": "nominal", "axis": {"labels": false, "ticks": false, "title": "targets", "titleX": -71, "titleY": -6.7, "titleColor": "#2a86b4"}}}},
     {"data": {"name": "hiA"}, "mark": {"type": "rect", "color": "#ef6f6a", "opacity": 0.4}, "encoding": {"x": {"field": "start", "type": "quantitative"}, "x2": {"field": "end"}}},
     {"data": {"name": "hiA"}, "mark": {"type": "rule", "color": "#a05a5a", "strokeWidth": 1}, "encoding": {"x": {"field": "start", "type": "quantitative"}}},
     {"data": {"name": "hiA"}, "mark": {"type": "rule", "color": "#a05a5a", "strokeWidth": 1}, "encoding": {"x": {"field": "end", "type": "quantitative"}}}
   ]},
  {"width": 600, "height": 37,
   "layer": [
     {"data": {"name": "fe_raw"}, "mark": {"type": "area", "interpolate": "step-after", "color": "#cf0f7c", "stroke": "#cf0f7c", "strokeWidth": 0.6},
      "encoding": {"x": {"field": "x", "type": "quantitative", "scale": {"domain": [93.65, 94.9833], "nice": false, "zero": false}, "axis": null},
                   "y": {"field": "v", "type": "quantitative", "scale": {"domain": [0, 10000], "nice": false}, "axis": {"values": [10000], "format": "d", "title": "raw signal", "titleX": -71, "titleY": 10, "titleColor": "#d0157e", "labelColor": "#d0157e", "tickColor": "#d0157e"}}}},
     {"data": {"name": "hiA"}, "mark": {"type": "rect", "color": "#ef6f6a", "opacity": 0.4}, "encoding": {"x": {"field": "start", "type": "quantitative"}, "x2": {"field": "end"}}},
     {"data": {"name": "hiA"}, "mark": {"type": "rule", "color": "#a05a5a", "strokeWidth": 1}, "encoding": {"x": {"field": "start", "type": "quantitative"}}},
     {"data": {"name": "hiA"}, "mark": {"type": "rule", "color": "#a05a5a", "strokeWidth": 1}, "encoding": {"x": {"field": "end", "type": "quantitative"}}}
   ]},
  {"width": 600, "height": 39,
   "title": {"text": "Fto (embryo)", "orient": "left", "anchor": "middle", "frame": "group", "offset": 14, "fontSize": 14, "fontWeight": "normal", "color": "#d0157e", "dx": -6.5},
   "layer": [
     {"data": {"name": "fe_bg"}, "mark": {"type": "area", "color": "#cf0f7c", "stroke": "#cf0f7c", "strokeWidth": 0.6},
      "encoding": {"x": {"field": "x", "type": "quantitative", "scale": {"domain": [93.65, 94.9833], "nice": false, "zero": false}, "axis": null},
                   "y": {"field": "v", "type": "quantitative", "scale": {"domain": [0, 10000], "nice": false}, "axis": {"values": [10000], "format": "d", "title": "background", "titleX": -71, "titleY": 8.3, "titleColor": "#d0157e", "labelColor": "#d0157e", "tickColor": "#d0157e"}}}},
     {"data": {"name": "hiA"}, "mark": {"type": "rect", "color": "#ef6f6a", "opacity": 0.4}, "encoding": {"x": {"field": "start", "type": "quantitative"}, "x2": {"field": "end"}}},
     {"data": {"name": "hiA"}, "mark": {"type": "rule", "color": "#a05a5a", "strokeWidth": 1}, "encoding": {"x": {"field": "start", "type": "quantitative"}}},
     {"data": {"name": "hiA"}, "mark": {"type": "rule", "color": "#a05a5a", "strokeWidth": 1}, "encoding": {"x": {"field": "end", "type": "quantitative"}}}
   ]},
  {"width": 600, "height": 40,
   "layer": [
     {"data": {"name": "fe_sig"}, "mark": {"type": "area", "interpolate": "step-after", "color": "#cf0f7c", "stroke": "#cf0f7c", "strokeWidth": 0.8},
      "encoding": {"x": {"field": "x", "type": "quantitative", "scale": {"domain": [93.65, 94.9833], "nice": false, "zero": false}, "axis": null},
                   "y": {"field": "v", "type": "quantitative", "scale": {"domain": [0, 30], "nice": false}, "axis": {"values": [30], "format": "d", "title": ["significance", "-log(pvalue)"], "titleX": -71, "titleY": -0.5, "titleColor": "#d0157e", "labelColor": "#d0157e", "tickColor": "#d0157e"}}}},
     {"data": {"name": "hiA"}, "mark": {"type": "rect", "color": "#ef6f6a", "opacity": 0.4}, "encoding": {"x": {"field": "start", "type": "quantitative"}, "x2": {"field": "end"}}},
     {"data": {"name": "hiA"}, "mark": {"type": "rule", "color": "#a05a5a", "strokeWidth": 1}, "encoding": {"x": {"field": "start", "type": "quantitative"}}},
     {"data": {"name": "hiA"}, "mark": {"type": "rule", "color": "#a05a5a", "strokeWidth": 1}, "encoding": {"x": {"field": "end", "type": "quantitative"}}}
   ]},
  {"width": 600, "height": 9,
   "layer": [
     {"data": {"name": "fe_tg"}, "mark": {"type": "tick", "orient": "vertical", "color": "black", "thickness": 1.8, "size": 6},
      "encoding": {"x": {"field": "x", "type": "quantitative", "scale": {"domain": [93.65, 94.9833], "nice": false, "zero": false}, "axis": null},
                   "y": {"datum": "targets", "type": "nominal", "axis": {"labels": false, "ticks": false, "title": "targets", "titleX": -71, "titleY": -7.7, "titleColor": "#d0157e"}}}},
     {"data": {"name": "hiA"}, "mark": {"type": "rect", "color": "#ef6f6a", "opacity": 0.4}, "encoding": {"x": {"field": "start", "type": "quantitative"}, "x2": {"field": "end"}}},
     {"data": {"name": "hiA"}, "mark": {"type": "rule", "color": "#a05a5a", "strokeWidth": 1}, "encoding": {"x": {"field": "start", "type": "quantitative"}}},
     {"data": {"name": "hiA"}, "mark": {"type": "rule", "color": "#a05a5a", "strokeWidth": 1}, "encoding": {"x": {"field": "end", "type": "quantitative"}}}
   ]},
  {"width": 600, "height": 37,
   "title": {"text": "b", "anchor": "start", "frame": "group", "dx": -98, "dy": 39, "offset": 0, "baseline": "alphabetic", "fontSize": 23, "fontWeight": "normal", "color": "black"},
   "layer": [
     {"data": {"name": "ia_raw"}, "mark": {"type": "area", "interpolate": "step-after", "color": "#1c309a", "stroke": "#1c309a", "strokeWidth": 0.6},
      "encoding": {"x": {"field": "x", "type": "quantitative", "scale": {"domain": [93.65, 94.9833], "nice": false, "zero": false}, "axis": null},
                   "y": {"field": "v", "type": "quantitative", "scale": {"domain": [0, 5000], "nice": false}, "axis": {"values": [5000], "format": "d", "title": "raw signal", "titleX": -71, "titleY": 9.3, "titleColor": "#1c3499", "labelColor": "#1c3499", "tickColor": "#1c3499"}}}},
     {"data": {"name": "hiA"}, "mark": {"type": "rect", "color": "#ef6f6a", "opacity": 0.4}, "encoding": {"x": {"field": "start", "type": "quantitative"}, "x2": {"field": "end"}}},
     {"data": {"name": "hiA"}, "mark": {"type": "rule", "color": "#a05a5a", "strokeWidth": 1}, "encoding": {"x": {"field": "start", "type": "quantitative"}}},
     {"data": {"name": "hiA"}, "mark": {"type": "rule", "color": "#a05a5a", "strokeWidth": 1}, "encoding": {"x": {"field": "end", "type": "quantitative"}}}
   ]},
  {"width": 600, "height": 38,
   "title": {"text": "Irx3 (adult)", "orient": "left", "anchor": "middle", "frame": "group", "offset": 14, "fontSize": 14, "fontWeight": "normal", "color": "#1c3499", "dx": 4},
   "layer": [
     {"data": {"name": "ia_bg"}, "mark": {"type": "area", "color": "#1c309a", "stroke": "#1c309a", "strokeWidth": 0.6},
      "encoding": {"x": {"field": "x", "type": "quantitative", "scale": {"domain": [93.65, 94.9833], "nice": false, "zero": false}, "axis": null},
                   "y": {"field": "v", "type": "quantitative", "scale": {"domain": [0, 5000], "nice": false}, "axis": {"values": [5000], "format": "d", "title": "background", "titleX": -71, "titleY": 7.3, "titleColor": "#1c3499", "labelColor": "#1c3499", "tickColor": "#1c3499"}}}},
     {"data": {"name": "hiA"}, "mark": {"type": "rect", "color": "#ef6f6a", "opacity": 0.4}, "encoding": {"x": {"field": "start", "type": "quantitative"}, "x2": {"field": "end"}}},
     {"data": {"name": "hiA"}, "mark": {"type": "rule", "color": "#a05a5a", "strokeWidth": 1}, "encoding": {"x": {"field": "start", "type": "quantitative"}}},
     {"data": {"name": "hiA"}, "mark": {"type": "rule", "color": "#a05a5a", "strokeWidth": 1}, "encoding": {"x": {"field": "end", "type": "quantitative"}}}
   ]},
  {"width": 600, "height": 40,
   "layer": [
     {"data": {"name": "ia_sig"}, "mark": {"type": "area", "interpolate": "step-after", "color": "#1c309a", "stroke": "#1c309a", "strokeWidth": 0.6},
      "encoding": {"x": {"field": "x", "type": "quantitative", "scale": {"domain": [93.65, 94.9833], "nice": false, "zero": false}, "axis": null},
                   "y": {"field": "v", "type": "quantitative", "scale": {"domain": [0, 12], "nice": false}, "axis": {"values": [12], "format": "d", "title": ["significance", "-log(pvalue)"], "titleX": -71, "titleY": -0.7, "titleLineHeight": 13, "titleColor": "#1c3499", "labelColor": "#1c3499", "tickColor": "#1c3499"}}}},
     {"data": {"name": "hiA"}, "mark": {"type": "rect", "color": "#ef6f6a", "opacity": 0.4}, "encoding": {"x": {"field": "start", "type": "quantitative"}, "x2": {"field": "end"}}},
     {"data": {"name": "hiA"}, "mark": {"type": "rule", "color": "#a05a5a", "strokeWidth": 1}, "encoding": {"x": {"field": "start", "type": "quantitative"}}},
     {"data": {"name": "hiA"}, "mark": {"type": "rule", "color": "#a05a5a", "strokeWidth": 1}, "encoding": {"x": {"field": "end", "type": "quantitative"}}}
   ]},
  {"width": 600, "height": 9,
   "layer": [
     {"data": {"name": "ia_tg"}, "mark": {"type": "tick", "orient": "vertical", "color": "black", "thickness": 1.8, "size": 6},
      "encoding": {"x": {"field": "x", "type": "quantitative", "scale": {"domain": [93.65, 94.9833], "nice": false, "zero": false}, "axis": null},
                   "y": {"datum": "targets", "type": "nominal", "axis": {"labels": false, "ticks": false, "title": "targets", "titleX": -71, "titleY": -7.3, "titleColor": "#1c3499"}}}},
     {"data": {"name": "hiA"}, "mark": {"type": "rect", "color": "#ef6f6a", "opacity": 0.4}, "encoding": {"x": {"field": "start", "type": "quantitative"}, "x2": {"field": "end"}}},
     {"data": {"name": "hiA"}, "mark": {"type": "rule", "color": "#a05a5a", "strokeWidth": 1}, "encoding": {"x": {"field": "start", "type": "quantitative"}}},
     {"data": {"name": "hiA"}, "mark": {"type": "rule", "color": "#a05a5a", "strokeWidth": 1}, "encoding": {"x": {"field": "end", "type": "quantitative"}}}
   ]},
  {"width": 600, "height": 37,
   "layer": [
     {"data": {"name": "fa_raw"}, "mark": {"type": "area", "interpolate": "step-after", "color": "#b30db5", "stroke": "#b30db5", "strokeWidth": 0.8},
      "encoding": {"x": {"field": "x", "type": "quantitative", "scale": {"domain": [93.65, 94.9833], "nice": false, "zero": false}, "axis": null},
                   "y": {"field": "v", "type": "quantitative", "scale": {"domain": [0, 5000], "nice": false}, "axis": {"values": [5000], "format": "d", "title": "raw signal", "titleX": -71, "titleY": 11, "titleColor": "#b820b8", "labelColor": "#b820b8", "tickColor": "#b820b8"}}}},
     {"data": {"name": "hiA"}, "mark": {"type": "rect", "color": "#ef6f6a", "opacity": 0.4}, "encoding": {"x": {"field": "start", "type": "quantitative"}, "x2": {"field": "end"}}},
     {"data": {"name": "hiA"}, "mark": {"type": "rule", "color": "#a05a5a", "strokeWidth": 1}, "encoding": {"x": {"field": "start", "type": "quantitative"}}},
     {"data": {"name": "hiA"}, "mark": {"type": "rule", "color": "#a05a5a", "strokeWidth": 1}, "encoding": {"x": {"field": "end", "type": "quantitative"}}}
   ]},
  {"width": 600, "height": 39,
   "title": {"text": "Fto (adult)", "orient": "left", "anchor": "middle", "frame": "group", "offset": 14, "fontSize": 14, "fontWeight": "normal", "color": "#b820b8", "dx": 2.5},
   "layer": [
     {"data": {"name": "fa_bg"}, "mark": {"type": "area", "color": "#b30db5", "stroke": "#b30db5", "strokeWidth": 0.6},
      "encoding": {"x": {"field": "x", "type": "quantitative", "scale": {"domain": [93.65, 94.9833], "nice": false, "zero": false}, "axis": null},
                   "y": {"field": "v", "type": "quantitative", "scale": {"domain": [0, 5000], "nice": false}, "axis": {"values": [5000], "format": "d", "title": "background", "titleX": -71, "titleY": 6.7, "titleColor": "#b820b8", "labelColor": "#b820b8", "tickColor": "#b820b8"}}}},
     {"data": {"name": "hiA"}, "mark": {"type": "rect", "color": "#ef6f6a", "opacity": 0.4}, "encoding": {"x": {"field": "start", "type": "quantitative"}, "x2": {"field": "end"}}},
     {"data": {"name": "hiA"}, "mark": {"type": "rule", "color": "#a05a5a", "strokeWidth": 1}, "encoding": {"x": {"field": "start", "type": "quantitative"}}},
     {"data": {"name": "hiA"}, "mark": {"type": "rule", "color": "#a05a5a", "strokeWidth": 1}, "encoding": {"x": {"field": "end", "type": "quantitative"}}}
   ]},
  {"width": 600, "height": 40,
   "layer": [
     {"data": {"name": "fa_sig"}, "mark": {"type": "area", "interpolate": "step-after", "color": "#b30db5", "stroke": "#b30db5", "strokeWidth": 0.8},
      "encoding": {"x": {"field": "x", "type": "quantitative", "scale": {"domain": [93.65, 94.9833], "nice": false, "zero": false}, "axis": null},
                   "y": {"field": "v", "type": "quantitative", "scale": {"domain": [0, 12], "nice": false}, "axis": {"values": [12], "format": "d", "title": ["significance", "-log(pvalue)"], "titleX": -71, "titleY": -1.3, "titleLineHeight": 13, "titleColor": "#b820b8", "labelColor": "#b820b8", "tickColor": "#b820b8"}}}},
     {"data": {"name": "hiA"}, "mark": {"type": "rect", "color": "#ef6f6a", "opacity": 0.4}, "encoding": {"x": {"field": "start", "type": "quantitative"}, "x2": {"field": "end"}}},
     {"data": {"name": "hiA"}, "mark": {"type": "rule", "color": "#a05a5a", "strokeWidth": 1}, "encoding": {"x": {"field": "start", "type": "quantitative"}}},
     {"data": {"name": "hiA"}, "mark": {"type": "rule", "color": "#a05a5a", "strokeWidth": 1}, "encoding": {"x": {"field": "end", "type": "quantitative"}}}
   ]},
  {"width": 600, "height": 10,
   "layer": [
     {"data": {"name": "fa_tg"}, "mark": {"type": "tick", "orient": "vertical", "color": "black", "thickness": 2, "size": 6},
      "encoding": {"x": {"field": "x", "type": "quantitative", "scale": {"domain": [93.65, 94.9833], "nice": false, "zero": false}, "axis": null},
                   "y": {"datum": "targets", "type": "nominal", "axis": {"labels": false, "ticks": false, "title": "targets", "titleX": -71, "titleY": -8.3, "titleColor": "#b820b8"}}}},
     {"data": {"name": "hiA"}, "mark": {"type": "rect", "color": "#ef6f6a", "opacity": 0.4}, "encoding": {"x": {"field": "start", "type": "quantitative"}, "x2": {"field": "end"}}},
     {"data": {"name": "hiA"}, "mark": {"type": "rule", "color": "#a05a5a", "strokeWidth": 1}, "encoding": {"x": {"field": "start", "type": "quantitative"}}},
     {"data": {"name": "hiA"}, "mark": {"type": "rule", "color": "#a05a5a", "strokeWidth": 1}, "encoding": {"x": {"field": "end", "type": "quantitative"}}}
   ]},
  {"width": 600, "height": 36,
   "title": {"text": "c", "anchor": "start", "frame": "group", "dx": -98, "dy": 35, "offset": 0, "baseline": "alphabetic", "fontSize": 23, "fontWeight": "normal", "color": "black"},
   "data": {"name": "posC"},
   "layer": [
     {"mark": {"type": "tick", "orient": "vertical", "color": "black", "thickness": 3, "size": 9},
      "encoding": {"x": {"field": "pos", "type": "quantitative", "scale": {"domain": [35.905, 37.002], "nice": false, "zero": false}, "axis": null},
                   "y": {"datum": "Chr7 position", "type": "nominal", "scale": {"range": [20, 36]}, "axis": {"labels": false, "ticks": false, "title": "Chr7 position", "titleX": -98, "titleY": 22.7, "titleColor": "black"}}}},
     {"mark": {"type": "text", "align": "left", "baseline": "middle", "dx": 6, "fontSize": 14.5, "color": "black"},
      "encoding": {"x": {"field": "pos", "type": "quantitative"}, "y": {"datum": "Chr7 position", "type": "nominal"}, "text": {"field": "label"}}}
   ]},
  {"width": 600, "height": 25,
   "layer": [
     {"data": {"name": "genesC"}, "mark": {"type": "rule", "color": "#3b3b9e", "strokeWidth": 1},
      "encoding": {"x": {"field": "start", "type": "quantitative", "scale": {"domain": [35.905, 37.002], "nice": false, "zero": false}, "axis": null}, "x2": {"field": "end"},
                   "y": {"field": "row", "type": "quantitative", "scale": {"domain": [0, 2.08], "reverse": true, "nice": false, "zero": false}, "axis": {"labels": false, "ticks": false, "title": "RefSeq Genes", "titleX": -98, "titleY": 2.7, "titleColor": "black"}}}},
     {"data": {"name": "exonsC"}, "mark": {"type": "tick", "orient": "vertical", "color": "#4b4bb0", "thickness": 2, "size": 9},
      "encoding": {"x": {"field": "pos", "type": "quantitative"}, "y": {"field": "row", "type": "quantitative"}}},
     {"data": {"name": "genesC"}, "transform": [{"filter": {"field": "gene", "oneOf": ["irx5a", "irx3a", "fto"]}}], "mark": {"type": "text", "align": "right", "baseline": "middle", "dx": -5, "fontSize": 14, "color": "black"},
      "encoding": {"x": {"field": "start", "type": "quantitative"}, "y": {"field": "row", "type": "quantitative"}, "text": {"field": "gene"}}},
     {"data": {"name": "genesC"}, "transform": [{"filter": {"field": "gene", "equal": "aktip"}}], "mark": {"type": "text", "align": "left", "baseline": "middle", "dx": 3, "fontSize": 14, "color": "black"},
      "encoding": {"x": {"field": "end", "type": "quantitative"}, "y": {"field": "row", "type": "quantitative"}, "text": {"field": "gene"}}},
     {"data": {"name": "hiC"}, "mark": {"type": "rect", "color": "#ef6f6a", "opacity": 0.4}, "encoding": {"x": {"field": "start", "type": "quantitative"}, "x2": {"field": "end"}}},
     {"data": {"name": "hiC"}, "mark": {"type": "rule", "color": "#a05a5a", "strokeWidth": 1}, "encoding": {"x": {"field": "start", "type": "quantitative"}}},
     {"data": {"name": "hiC"}, "mark": {"type": "rule", "color": "#a05a5a", "strokeWidth": 1}, "encoding": {"x": {"field": "end", "type": "quantitative"}}}
   ]},
  {"width": 600, "height": 31,
   "layer": [
     {"data": {"name": "ci_raw"}, "mark": {"type": "area", "interpolate": "step-after", "color": "#1f78a8", "stroke": "#1f78a8", "strokeWidth": 0.6},
      "encoding": {"x": {"field": "x", "type": "quantitative", "scale": {"domain": [35.905, 37.002], "nice": false, "zero": false}, "axis": null},
                   "y": {"field": "v", "type": "quantitative", "scale": {"domain": [0, 3000], "nice": false}, "axis": {"values": [3000], "format": "d", "title": "raw signal", "titleX": -75, "titleY": 8.3, "titleColor": "#2a86b4", "labelColor": "#2a86b4", "tickColor": "#2a86b4"}}}},
     {"data": {"name": "hiC"}, "mark": {"type": "rect", "color": "#ef6f6a", "opacity": 0.4}, "encoding": {"x": {"field": "start", "type": "quantitative"}, "x2": {"field": "end"}}},
     {"data": {"name": "hiC"}, "mark": {"type": "rule", "color": "#a05a5a", "strokeWidth": 1}, "encoding": {"x": {"field": "start", "type": "quantitative"}}},
     {"data": {"name": "hiC"}, "mark": {"type": "rule", "color": "#a05a5a", "strokeWidth": 1}, "encoding": {"x": {"field": "end", "type": "quantitative"}}}
   ]},
  {"width": 600, "height": 27,
   "layer": [
     {"data": {"name": "ci_bg"}, "mark": {"type": "area", "color": "#1f78a8", "stroke": "#1f78a8", "strokeWidth": 0.6},
      "encoding": {"x": {"field": "x", "type": "quantitative", "scale": {"domain": [35.905, 37.002], "nice": false, "zero": false}, "axis": null},
                   "y": {"field": "v", "type": "quantitative", "scale": {"domain": [0, 3000], "nice": false}, "axis": {"values": [3000], "format": "d", "title": "background", "titleX": -75, "titleY": 3.3, "titleColor": "#2a86b4", "labelColor": "#2a86b4", "tickColor": "#2a86b4"}}}},
     {"data": {"name": "hiC"}, "mark": {"type": "rect", "color": "#ef6f6a", "opacity": 0.4}, "encoding": {"x": {"field": "start", "type": "quantitative"}, "x2": {"field": "end"}}},
     {"data": {"name": "hiC"}, "mark": {"type": "rule", "color": "#a05a5a", "strokeWidth": 1}, "encoding": {"x": {"field": "start", "type": "quantitative"}}},
     {"data": {"name": "hiC"}, "mark": {"type": "rule", "color": "#a05a5a", "strokeWidth": 1}, "encoding": {"x": {"field": "end", "type": "quantitative"}}}
   ]},
  {"width": 600, "height": 29,
   "title": {"text": "irx3a", "orient": "left", "anchor": "middle", "frame": "group", "offset": 11, "fontSize": 14, "fontWeight": "normal", "color": "#2a86b4", "dx": 3.5},
   "layer": [
     {"data": {"name": "ci_sig"}, "mark": {"type": "area", "interpolate": "step-after", "color": "#1f78a8", "stroke": "#1f78a8", "strokeWidth": 0.6},
      "encoding": {"x": {"field": "x", "type": "quantitative", "scale": {"domain": [35.905, 37.002], "nice": false, "zero": false}, "axis": null},
                   "y": {"field": "v", "type": "quantitative", "scale": {"domain": [0, 30], "nice": false}, "axis": {"values": [30], "format": "d", "title": ["significance", "-log(pvalue)"], "titleX": -75, "titleY": 0, "titleLineHeight": 13, "titleColor": "#2a86b4", "labelColor": "#2a86b4", "tickColor": "#2a86b4"}}}},
     {"data": {"name": "hiC"}, "mark": {"type": "rect", "color": "#ef6f6a", "opacity": 0.4}, "encoding": {"x": {"field": "start", "type": "quantitative"}, "x2": {"field": "end"}}},
     {"data": {"name": "hiC"}, "mark": {"type": "rule", "color": "#a05a5a", "strokeWidth": 1}, "encoding": {"x": {"field": "start", "type": "quantitative"}}},
     {"data": {"name": "hiC"}, "mark": {"type": "rule", "color": "#a05a5a", "strokeWidth": 1}, "encoding": {"x": {"field": "end", "type": "quantitative"}}}
   ]},
  {"width": 600, "height": 10,
   "layer": [
     {"data": {"name": "ci_tg"}, "mark": {"type": "tick", "orient": "vertical", "color": "black", "thickness": 1.8, "size": 5},
      "encoding": {"x": {"field": "x", "type": "quantitative", "scale": {"domain": [35.905, 37.002], "nice": false, "zero": false}, "axis": null},
                   "y": {"datum": "targets", "type": "nominal", "axis": {"labels": false, "ticks": false, "title": "targets", "titleX": -75, "titleY": -3, "titleColor": "#2a86b4"}}}},
     {"data": {"name": "hiC"}, "mark": {"type": "rect", "color": "#ef6f6a", "opacity": 0.4}, "encoding": {"x": {"field": "start", "type": "quantitative"}, "x2": {"field": "end"}}},
     {"data": {"name": "hiC"}, "mark": {"type": "rule", "color": "#a05a5a", "strokeWidth": 1}, "encoding": {"x": {"field": "start", "type": "quantitative"}}},
     {"data": {"name": "hiC"}, "mark": {"type": "rule", "color": "#a05a5a", "strokeWidth": 1}, "encoding": {"x": {"field": "end", "type": "quantitative"}}}
   ]},
  {"width": 600, "height": 29,
   "layer": [
     {"data": {"name": "cf_raw"}, "mark": {"type": "area", "interpolate": "step-after", "color": "#d0157e", "stroke": "#d0157e", "strokeWidth": 0.6},
      "encoding": {"x": {"field": "x", "type": "quantitative", "scale": {"domain": [35.905, 37.002], "nice": false, "zero": false}, "axis": null},
                   "y": {"field": "v", "type": "quantitative", "scale": {"domain": [0, 3000], "nice": false}, "axis": {"values": [3000], "format": "d", "title": "raw signal", "titleX": -75, "titleY": 7.3, "titleColor": "#d0157e", "labelColor": "#d0157e", "tickColor": "#d0157e"}}}},
     {"data": {"name": "hiC"}, "mark": {"type": "rect", "color": "#ef6f6a", "opacity": 0.4}, "encoding": {"x": {"field": "start", "type": "quantitative"}, "x2": {"field": "end"}}},
     {"data": {"name": "hiC"}, "mark": {"type": "rule", "color": "#a05a5a", "strokeWidth": 1}, "encoding": {"x": {"field": "start", "type": "quantitative"}}},
     {"data": {"name": "hiC"}, "mark": {"type": "rule", "color": "#a05a5a", "strokeWidth": 1}, "encoding": {"x": {"field": "end", "type": "quantitative"}}}
   ]},
  {"width": 600, "height": 28,
   "title": {"text": "fto", "orient": "left", "anchor": "middle", "frame": "group", "offset": 11, "fontSize": 14, "fontWeight": "normal", "color": "#d0157e", "dx": -9.5},
   "layer": [
     {"data": {"name": "cf_bg"}, "mark": {"type": "area", "color": "#d0157e", "stroke": "#d0157e", "strokeWidth": 0.6},
      "encoding": {"x": {"field": "x", "type": "quantitative", "scale": {"domain": [35.905, 37.002], "nice": false, "zero": false}, "axis": null},
                   "y": {"field": "v", "type": "quantitative", "scale": {"domain": [0, 3000], "nice": false}, "axis": {"values": [3000], "format": "d", "title": "background", "titleX": -75, "titleY": 4, "titleColor": "#d0157e", "labelColor": "#d0157e", "tickColor": "#d0157e"}}}},
     {"data": {"name": "hiC"}, "mark": {"type": "rect", "color": "#ef6f6a", "opacity": 0.4}, "encoding": {"x": {"field": "start", "type": "quantitative"}, "x2": {"field": "end"}}},
     {"data": {"name": "hiC"}, "mark": {"type": "rule", "color": "#a05a5a", "strokeWidth": 1}, "encoding": {"x": {"field": "start", "type": "quantitative"}}},
     {"data": {"name": "hiC"}, "mark": {"type": "rule", "color": "#a05a5a", "strokeWidth": 1}, "encoding": {"x": {"field": "end", "type": "quantitative"}}}
   ]},
  {"width": 600, "height": 30,
   "layer": [
     {"data": {"name": "cf_sig"}, "mark": {"type": "area", "interpolate": "step-after", "color": "#d0157e", "stroke": "#d0157e", "strokeWidth": 0.8},
      "encoding": {"x": {"field": "x", "type": "quantitative", "scale": {"domain": [35.905, 37.002], "nice": false, "zero": false}, "axis": null},
                   "y": {"field": "v", "type": "quantitative", "scale": {"domain": [0, 30], "nice": false}, "axis": {"values": [30], "format": "d", "title": ["significance", "-log(pvalue)"], "titleX": -75, "titleY": -5.2, "titleLineHeight": 13, "titleColor": "#d0157e", "labelColor": "#d0157e", "tickColor": "#d0157e"}}}},
     {"data": {"name": "hiC"}, "mark": {"type": "rect", "color": "#ef6f6a", "opacity": 0.4}, "encoding": {"x": {"field": "start", "type": "quantitative"}, "x2": {"field": "end"}}},
     {"data": {"name": "hiC"}, "mark": {"type": "rule", "color": "#a05a5a", "strokeWidth": 1}, "encoding": {"x": {"field": "start", "type": "quantitative"}}},
     {"data": {"name": "hiC"}, "mark": {"type": "rule", "color": "#a05a5a", "strokeWidth": 1}, "encoding": {"x": {"field": "end", "type": "quantitative"}}}
   ]},
  {"width": 600, "height": 11,
   "layer": [
     {"data": {"name": "cf_tg"}, "mark": {"type": "tick", "orient": "vertical", "color": "black", "thickness": 1.8, "size": 5},
      "encoding": {"x": {"field": "x", "type": "quantitative", "scale": {"domain": [35.905, 37.002], "nice": false, "zero": false}, "axis": null},
                   "y": {"datum": "targets", "type": "nominal", "axis": {"labels": false, "ticks": false, "title": "targets", "titleX": -75, "titleY": -4.7, "titleColor": "#d0157e"}}}},
     {"data": {"name": "hiC"}, "mark": {"type": "rect", "color": "#ef6f6a", "opacity": 0.4}, "encoding": {"x": {"field": "start", "type": "quantitative"}, "x2": {"field": "end"}}},
     {"data": {"name": "hiC"}, "mark": {"type": "rule", "color": "#a05a5a", "strokeWidth": 1}, "encoding": {"x": {"field": "start", "type": "quantitative"}}},
     {"data": {"name": "hiC"}, "mark": {"type": "rule", "color": "#a05a5a", "strokeWidth": 1}, "encoding": {"x": {"field": "end", "type": "quantitative"}}}
   ]}
]
}
